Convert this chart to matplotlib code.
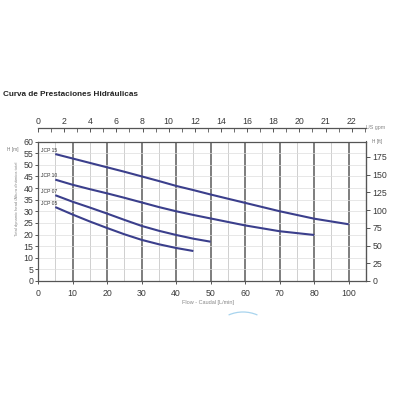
import matplotlib
matplotlib.use("Agg")
import matplotlib.pyplot as plt
from matplotlib.patches import Arc

plt.rcParams['font.family'] = ['Liberation Sans', 'DejaVu Sans']

# ---- data (x in axis-position units; label "100" sits at position 90) ----
x_ticks = [0, 10, 20, 30, 40, 50, 60, 70, 80, 90]
x_ticklabels = ['0', '10', '20', '30', '40', '50', '60', '70', '80', '100']
gpm_major = [0, 2, 4, 6, 8, 10, 12, 14, 16, 18, 20, 22, 24]
gpm_labels = ['0', '2', '4', '6', '8', '10', '12', '14', '16', '18', '20', '21', '22']
gpm_minor = [1, 3, 5, 7, 9, 11, 13, 15, 17, 19, 21, 23, 25]
ft_ticks = [0, 25, 50, 75, 100, 125, 150, 175]

jcp15_x = [5, 10, 15, 20, 25, 30, 35, 40, 45, 50, 60, 70, 80, 90]
jcp15_y = [54.6, 52.7, 50.8, 48.9, 47.0, 45.0, 43.0, 40.9, 39.1, 37.2, 33.6, 30.0, 26.8, 24.4]
jcp10_x = [5, 10, 15, 20, 25, 30, 35, 40, 45, 50, 60, 70, 80]
jcp10_y = [43.6, 41.4, 39.5, 37.7, 35.8, 33.8, 31.8, 30.0, 28.4, 26.9, 23.9, 21.4, 19.8]
jcp07_x = [5, 10, 15, 20, 25, 30, 35, 40, 45, 50]
jcp07_y = [36.9, 34.1, 31.6, 29.0, 26.3, 23.7, 21.6, 19.8, 18.2, 16.9]
jcp05_x = [5, 10, 15, 20, 25, 30, 35, 40, 45]
jcp05_y = [31.8, 28.6, 25.6, 22.8, 20.1, 17.7, 15.8, 14.2, 12.9]
series = [("JCP 15", jcp15_x, jcp15_y), ("JCP 10", jcp10_x, jcp10_y),
          ("JCP 07", jcp07_x, jcp07_y), ("JCP 05", jcp05_x, jcp05_y)]
label_y_px = [150.5, 175.5, 191.5, 203.5]

W = H = 400
fig = plt.figure(figsize=(4, 4), dpi=100)
fig.patch.set_facecolor('white')
L, R, T, B = 38, 366, 141.5, 281
ax = fig.add_axes([L / W, 1 - B / H, (R - L) / W, (B - T) / H])

ax.set_xlim(0, 95)
ax.set_ylim(0, 60)
ax.set_xticks(x_ticks)
ax.set_xticklabels(x_ticklabels)
ax.set_xticks([5, 15, 25, 35, 45, 55, 65, 75, 85, 95], minor=True)
ax.set_yticks(range(0, 61, 5))
ax.tick_params(axis='x', which='major', labelsize=6.3, colors='#3a3a3a', length=2, pad=4, width=0.6)
ax.tick_params(axis='x', which='minor', length=0)
ax.tick_params(axis='y', labelsize=6.3, colors='#3a3a3a', length=2, pad=1.5, width=0.6)
ax.grid(which='major', axis='x', color='#5a5a5a', lw=1.1, zorder=1)
ax.grid(which='minor', axis='x', color='#c8c8c8', lw=0.6, zorder=1)
ax.grid(which='major', axis='y', color='#dddddd', lw=0.5, zorder=0)
for s in ax.spines.values():
    s.set_color('#555555')
    s.set_linewidth(0.9)

for name, xs, ys in series:
    ax.plot(xs, ys, color='#3b3f8c', lw=1.5, zorder=3, solid_capstyle='butt',
            solid_joinstyle='round')

# curve labels
for (name, xs, ys), ypx in zip(series, label_y_px):
    fig.text(41 / W, 1 - ypx / H, name, fontsize=3.6, color='#333333', ha='left', va='center')

# top axis (US gpm)
ax2 = ax.twiny()
ax2.set_xlim(0, 95)
ax2.set_xticks([g * 3.785 for g in gpm_major])
ax2.set_xticklabels(gpm_labels)
ax2.set_xticks([g * 3.785 for g in gpm_minor], minor=True)
ax2.spines['top'].set_position(('outward', 10))
for k in ['left', 'right', 'bottom']:
    ax2.spines[k].set_visible(False)
ax2.spines['top'].set_color('#555555')
ax2.spines['top'].set_linewidth(0.9)
ax2.tick_params(axis='x', which='major', direction='in', length=3, width=0.6, pad=1.5,
                labelsize=6.3, colors='#3a3a3a')
ax2.tick_params(axis='x', which='minor', direction='in', length=3, width=0.6, colors='#555555')

# right axis (ft)
ax3 = ax.twinx()
ax3.set_ylim(0, 60 * 3.28084)
ax3.set_yticks(ft_ticks)
for k in ['left', 'top', 'bottom']:
    ax3.spines[k].set_visible(False)
ax3.spines['right'].set_color('#555555')
ax3.tick_params(axis='y', length=3, width=0.6, pad=1.5, labelsize=6.3, colors='#3a3a3a')

# texts
fig.text(3 / W, 1 - 94.5 / H, 'Curva de Prestaciones Hidráulicas', fontsize=5.9,
         color='#222222', ha='left', va='center', fontweight='bold')
fig.text(12.5 / W, 1 - 150 / H, 'H [m]', fontsize=3.4, color='#777777', ha='center', va='center')
fig.text(17 / W, 1 - 199 / H, 'Total dynamic head /Altura dinámica total', fontsize=3.0,
         color='#888888', rotation=90, ha='center', va='center')
fig.text(377 / W, 1 - 142 / H, 'H [ft]', fontsize=3.4, color='#777777', ha='center', va='center')
fig.text(376 / W, 1 - 127 / H, 'US gpm', fontsize=3.9, color='#888888', ha='center', va='center')
fig.text(208 / W, 1 - 302.5 / H, 'Flow - Caudal [L/min]', fontsize=4.0, color='#888888',
         ha='center', va='center')

# faint decorative arc
arc = Arc((243 / W, 1 - 340 / H), 0.16, 0.14, theta1=60, theta2=120,
          transform=fig.transFigure, color='#a8d4ee', lw=0.9)
fig.patches.append(arc)

fig.savefig('out.png', dpi=100, facecolor='white')
